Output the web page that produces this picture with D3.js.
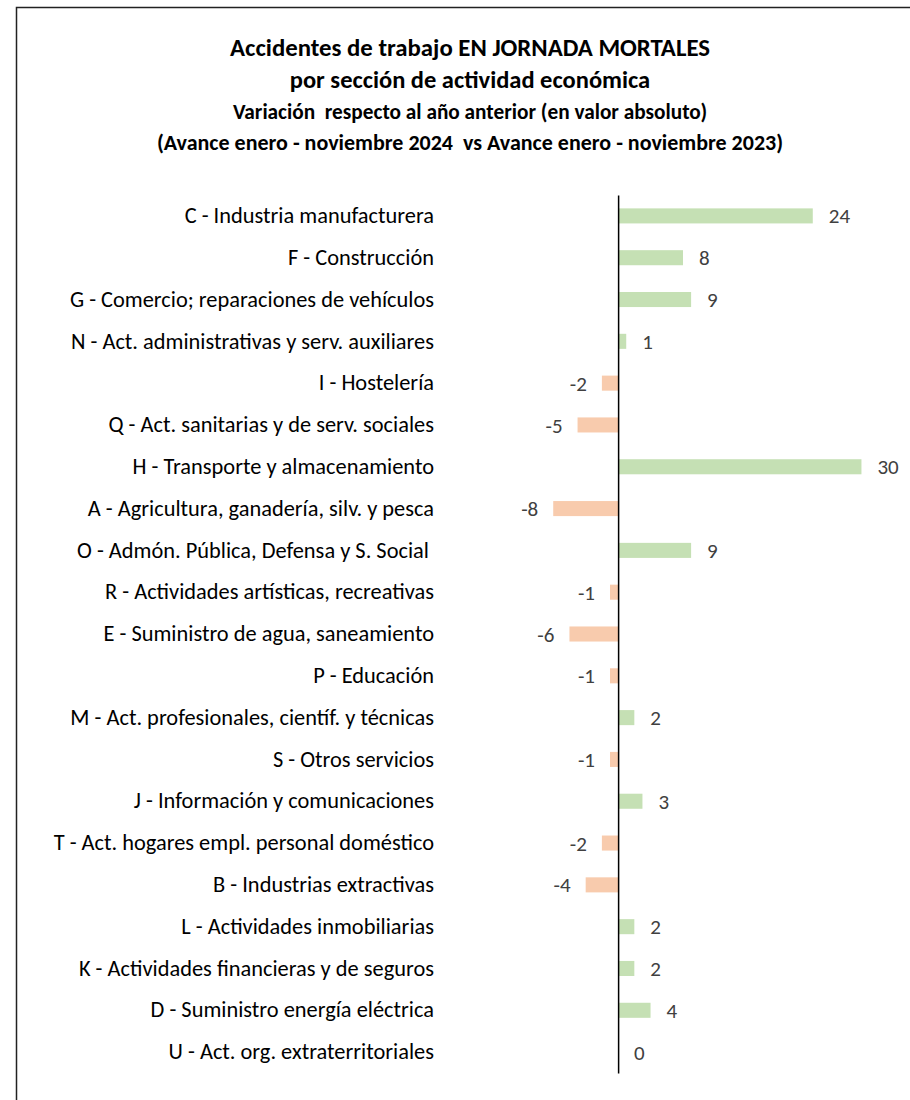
<!DOCTYPE html>
<meta charset="utf-8">
<title>Accidentes de trabajo mortales</title>
<style>
  body { margin: 0; background: #fff; }
  text { font-family: Carlito, Calibri, Lato, sans-serif; white-space: pre; }
</style>
<body>
<script src="https://cdn.jsdelivr.net/npm/d3@7"></script>
<script>
var categories = [
  "C - Industria manufacturera",
  "F - Construcción",
  "G - Comercio; reparaciones de vehículos",
  "N - Act. administrativas y serv. auxiliares",
  "I - Hostelería",
  "Q - Act. sanitarias y de serv. sociales",
  "H - Transporte y almacenamiento",
  "A - Agricultura, ganadería, silv. y pesca",
  "O - Admón. Pública, Defensa y S. Social ",
  "R - Actividades artísticas, recreativas",
  "E - Suministro de agua, saneamiento",
  "P - Educación",
  "M - Act. profesionales, científ. y técnicas",
  "S - Otros servicios",
  "J - Información y comunicaciones",
  "T - Act. hogares empl. personal doméstico",
  "B - Industrias extractivas",
  "L - Actividades inmobiliarias",
  "K - Actividades financieras y de seguros",
  "D - Suministro energía eléctrica",
  "U - Act. org. extraterritoriales"
];
var values = [24, 8, 9, 1, -2, -5, 30, -8, 9, -1, -6, -1, 2, -1, 3, -2, -4, 2, 2, 4, 0];
var titleLines = [
  "Accidentes de trabajo EN JORNADA MORTALES",
  "por sección de actividad económica",
  "Variación  respecto al año anterior (en valor absoluto)",
  "(Avance enero - noviembre 2024  vs Avance enero - noviembre 2023)"
];

var width = 910, height = 1100;
var svg = d3.select('body').append('svg')
    .attr('width', width)
    .attr('height', height);

// chart frame (right and bottom edges fall outside the picture)
svg.append('rect')
    .attr('x', 16.5).attr('y', 7.5)
    .attr('width', 1000).attr('height', 1200)
    .attr('fill', 'none')
    .attr('stroke', '#222')
    .attr('stroke-width', 1.5);

// titles
var titleSizes = [24.8, 24.5, 21.3, 22];
var titleY = [56, 88, 119, 150];
svg.selectAll('text.title')
    .data(titleLines)
  .enter().append('text')
    .attr('class', 'title')
    .attr('x', 470)
    .attr('y', function(d, i) { return titleY[i]; })
    .attr('text-anchor', 'middle')
    .attr('font-weight', 'bold')
    .attr('font-size', function(d, i) { return titleSizes[i]; })
    .attr('fill', '#000')
    .text(function(d) { return d; });

var x = d3.scaleLinear()
    .domain([-10, 35])
    .range([537, 902]);
var y = d3.scaleBand()
    .domain(categories)
    .range([195, 1073])
    .paddingInner(0.64)
    .paddingOuter(0.32);

var data = categories.map(function(c, i) { return {name: c, value: values[i]}; });

// bars
svg.selectAll('rect.bar')
    .data(data)
  .enter().append('rect')
    .attr('class', 'bar')
    .attr('x', function(d) { return x(Math.min(0, d.value)); })
    .attr('y', function(d) { return y(d.name); })
    .attr('width', function(d) { return Math.abs(x(d.value) - x(0)); })
    .attr('height', y.bandwidth())
    .attr('fill', function(d) { return d.value < 0 ? '#F8CBAD' : '#C5E0B4'; });

// category axis sits on the zero line
var yAxis = d3.axisLeft(y)
    .tickSizeInner(0)
    .tickSizeOuter(0)
    .tickPadding(x(0) - 434);
var g = svg.append('g')
    .attr('transform', 'translate(' + x(0) + ',0)')
    .call(yAxis);
g.select('.domain')
    .attr('stroke', '#000')
    .attr('stroke-width', 1.5);
g.selectAll('.tick text')
    .attr('font-family', 'Carlito, Calibri, Lato, sans-serif')
    .attr('font-size', 22.4)
    .attr('fill', '#000');

// value labels
svg.selectAll('text.value')
    .data(data)
  .enter().append('text')
    .attr('class', 'value')
    .attr('x', function(d) { return d.value < 0 ? x(d.value) - 15 : x(d.value) + 16; })
    .attr('y', function(d) { return y(d.name) + y.bandwidth() / 2; })
    .attr('dy', '0.36em')
    .attr('text-anchor', function(d) { return d.value < 0 ? 'end' : 'start'; })
    .attr('font-size', 21)
    .attr('fill', '#404040')
    .text(function(d) { return d.value; });
</script>
